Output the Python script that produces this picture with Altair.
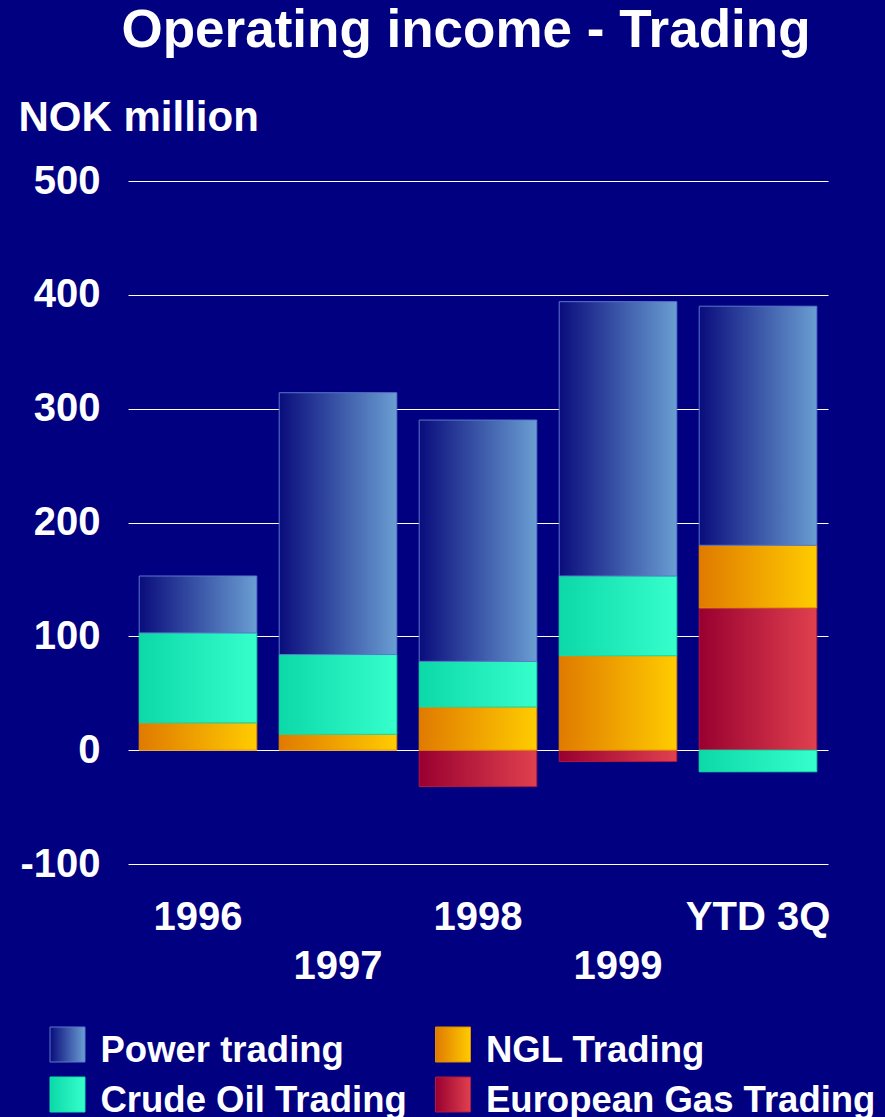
import altair as alt
import pandas as pd

# ---- data ----
categories = ["1996", "1997", "1998", "1999", "YTD 3Q"]
power_trading = [50, 230, 212, 241, 210]
crude_oil_trading = [79, 70, 40, 70, -19]
ngl_trading = [24, 14, 38, 83, 55]
european_gas_trading = [0, 0, -32, -10, 125]

series_names = ["European Gas Trading", "NGL Trading", "Crude Oil Trading", "Power trading"]
series_values = [european_gas_trading, ngl_trading, crude_oil_trading, power_trading]

legend_names = ["Power trading", "NGL Trading", "Crude Oil Trading", "European Gas Trading"]
legend_cols = [0, 1, 0, 1]
legend_rows = [0, 0, 1, 1]
y_ticks = [-100, 0, 100, 200, 300, 400, 500]

# ---- stacking (positives up from zero, negatives down from zero) ----
rows = []
for ci, cat in enumerate(categories):
    pos, neg = 0.0, 0.0
    for name, vals in zip(series_names, series_values):
        v = vals[ci]
        if v == 0:
            continue
        if v > 0:
            y0, y1 = pos, pos + v
            pos += v
        else:
            y0, y1 = neg, neg + v
            neg += v
        rows.append({"cat": cat, "series": name, "value": v, "y0": y0, "y1": y1})
df = pd.DataFrame(rows)

legend_df = pd.DataFrame({"name": legend_names, "col": legend_cols, "row": legend_rows})


def grad(c0, c1):
    return alt.LinearGradient(
        gradient="linear",
        stops=[alt.GradientStop(color=c0, offset=0), alt.GradientStop(color=c1, offset=1)],
        x1=0, x2=1, y1=0, y2=0,
    )


styles = {
    "Power trading": (grad("#0A0C7C", "#6A9ED2"), "#5A78CC"),
    "Crude Oil Trading": (grad("#0CD8A8", "#36FFCC"), "#10E0A8"),
    "NGL Trading": (grad("#E07A00", "#FFCC00"), "#E08A00"),
    "European Gas Trading": (grad("#990030", "#E0404E"), "#B01840"),
}

FONT = "Liberation Sans"

x_axis = alt.Axis(
    title=None, domain=False, ticks=False, grid=False,
    labelAngle=0, labelFontSize=40, labelFontWeight="bold", labelColor="white",
    labelFont=FONT, labelBaseline="alphabetic", labelOverlap=False,
    labelPadding={"condition": {"test": "datum.value == '1997' || datum.value == '1999'", "value": 114},
                  "value": 65},
)
y_axis = alt.Axis(
    title="NOK million", titleAngle=0, titleX=-110, titleY=-51, titleAlign="left",
    titleBaseline="alphabetic", titleFontSize=42, titleFontWeight="bold", titleColor="white",
    titleFont=FONT,
    values=y_ticks, domain=False, ticks=False, grid=True, gridColor="white", gridWidth=1,
    labelFontSize=40, labelFontWeight="bold", labelColor="white", labelFont=FONT,
    labelPadding=28,
    labelExpr="datum.value < 0 ? '-' + abs(datum.value) : '' + datum.value",
)

x_enc = alt.X("cat:N", sort=categories,
              scale=alt.Scale(domain=categories, paddingInner=0.16, paddingOuter=0.08),
              axis=x_axis)
y_enc = alt.Y("y0:Q", scale=alt.Scale(domain=[-100, 500], nice=False, zero=False), axis=y_axis)

bar_layers = []
for name in series_names:
    fill, stroke = styles[name]
    bar_layers.append(
        alt.Chart(df)
        .transform_filter(alt.datum.series == name)
        .mark_bar(color=fill, stroke=stroke, strokeWidth=1)
        .encode(x=x_enc, y=y_enc, y2="y1:Q")
    )
bars = alt.layer(*bar_layers)

lx = alt.X("col:Q", scale=alt.Scale(domain=[0, 1], range=[-60.5, 325]), axis=None)
ly = alt.Y("row:Q", scale=alt.Scale(domain=[0, 1], range=[863.5, 913.5]), axis=None)

legend_layers = []
for name in legend_names:
    fill, stroke = styles[name]
    legend_layers.append(
        alt.Chart(legend_df)
        .transform_filter(alt.datum.name == name)
        .mark_square(size=1225, color=fill, filled=True, opacity=1, stroke=stroke, strokeWidth=1)
        .encode(x=lx, y=ly)
    )
legend_layers.append(
    alt.Chart(legend_df)
    .mark_text(align="left", baseline="alphabetic", dx=33, dy=17.5, fontSize=36.5,
               fontWeight="bold", color="white", font=FONT)
    .encode(x=lx, y=ly, text="name:N")
)
legend = alt.layer(*legend_layers)

chart = (
    alt.layer(bars, legend)
    .resolve_scale(x="independent", y="independent")
    .properties(
        width=700, height=683,
        autosize=alt.AutoSizeParams(type="none"),
        padding={"left": 128, "top": 181, "right": 57, "bottom": 253},
        title=alt.TitleParams(
            "Operating income - Trading", fontSize=53, fontWeight="bold", color="white",
            font=FONT, anchor="middle", dx=-12, offset=-4, baseline="alphabetic",
        ),
    )
    .configure(background="#000080")
    .configure_view(stroke=None)
)

chart.save("out.html", embed_options={"renderer": "svg", "actions": False})
